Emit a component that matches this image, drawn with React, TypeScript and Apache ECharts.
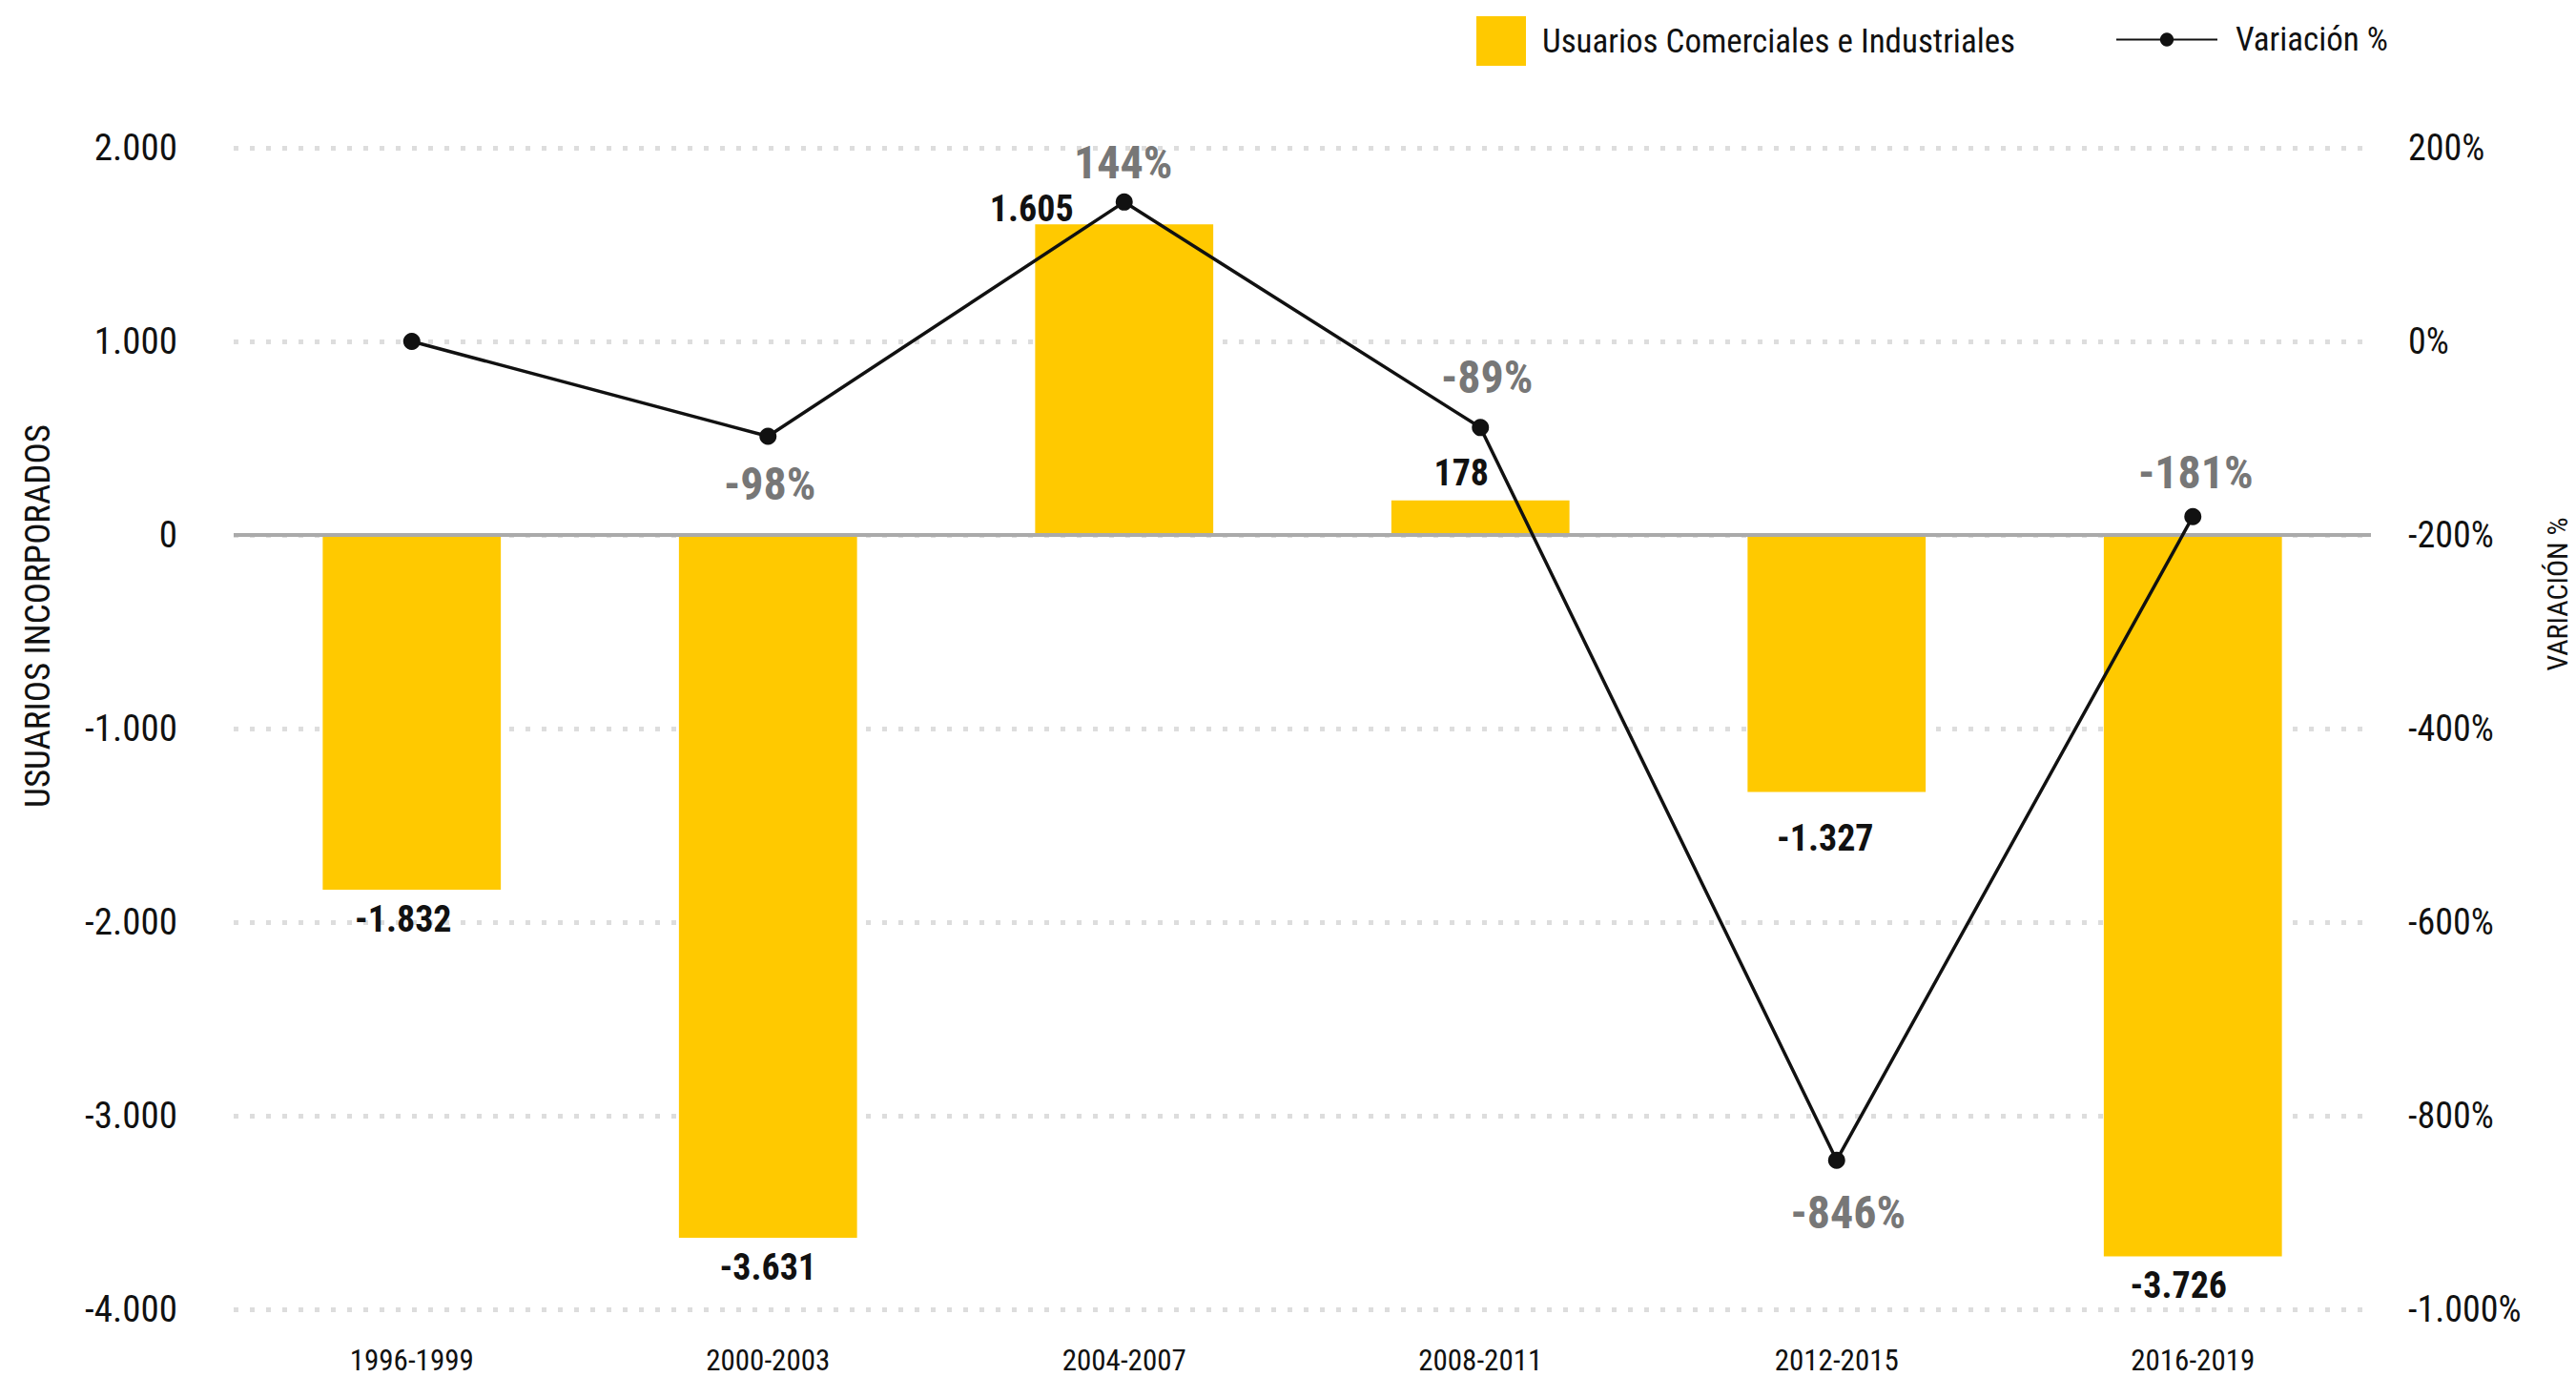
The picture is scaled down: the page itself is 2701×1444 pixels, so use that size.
import React, { useEffect, useRef } from 'react';
import * as echarts from 'echarts';

const categories = ['1996-1999', '2000-2003', '2004-2007', '2008-2011', '2012-2015', '2016-2019'];
const usuarios = [-1832, -3631, 1605, 178, -1327, -3726];
const variacion = [0, -98, 144, -89, -846, -181];
const barName = 'Usuarios Comerciales e Industriales';
const lineName = 'Variación %';
const leftAxisName = 'USUARIOS INCORPORADOS';
const rightAxisName = 'VARIACIÓN %';

const FONT = "'Roboto Condensed', 'DejaVu Sans Condensed', 'Liberation Sans Narrow', Roboto, sans-serif";

const fmt = (v: number) => {
  const s = Math.abs(v).toString().replace(/\B(?=(\d{3})+(?!\d))/g, '.');
  return (v < 0 ? '-' : '') + s;
};

// label placement tweaks (style only)
const barLabelOffsets: number[][] = [[-9, 0], [0, 0], [-97, 0], [-20, 0], [-12, 18], [-15, 0]];
const barLabelDist = [12, 12, -3, 10, 12, 12];
const lineLabelPos = ['top', 'bottom', 'top', 'top', 'bottom', 'top'];
const lineLabelDist = [20, 17, 8, 20, 22, 13];
const lineLabelOffsets: number[][] = [[0, 0], [2, 0], [-1, 0], [7, 0], [12, 0], [3, 0]];

export default function App() {
  const ref = useRef<HTMLDivElement>(null);
  useEffect(() => {
    if (!ref.current) return;
    const chart = echarts.init(ref.current, undefined, { renderer: 'svg' });
    const option: any = {
      animation: false,
      backgroundColor: '#ffffff',
      textStyle: { fontFamily: FONT },
      grid: { left: 245, right: 215, top: 155, bottom: 71 },
      legend: [
        {
          data: [{ name: barName, icon: 'rect' }],
          left: 1543,
          top: 12,
          itemWidth: 52,
          itemHeight: 52,
          textStyle: { fontFamily: FONT, fontSize: 35, color: '#111', padding: [0, 0, 0, 12] },
        },
        {
          data: [lineName],
          left: 2213,
          top: 19,
          itemWidth: 106,
          itemHeight: 18,
          textStyle: { fontFamily: FONT, fontSize: 35, color: '#111', padding: [0, 0, 0, 14] },
        },
      ],
      xAxis: {
        type: 'category',
        data: categories,
        axisLine: { show: false },
        axisTick: { show: false },
        axisLabel: { fontFamily: FONT, fontSize: 31, color: '#111', margin: 38 },
      },
      yAxis: [
        {
          type: 'value',
          min: -4000,
          max: 2000,
          interval: 1000,
          axisLine: { show: false },
          axisTick: { show: false },
          axisLabel: { fontFamily: FONT, fontSize: 39, color: '#111', margin: 59, formatter: (v: number) => fmt(v) },
          splitLine: { show: true, lineStyle: { color: '#dddddd', width: 5, type: [5, 12] } },
        },
        {
          type: 'value',
          min: -1000,
          max: 200,
          interval: 200,
          axisLine: { show: false },
          axisTick: { show: false },
          axisLabel: { fontFamily: FONT, fontSize: 38, color: '#111', margin: 39, formatter: (v: number) => fmt(v) + '%' },
          splitLine: { show: false },
        },
      ],
      graphic: [
        {
          type: 'text',
          x: 39,
          y: 646,
          rotation: Math.PI / 2,
          style: { text: leftAxisName, fontFamily: FONT, fontSize: 37, fill: '#111', align: 'center', verticalAlign: 'middle' },
        },
        {
          type: 'text',
          x: 2681,
          y: 623,
          rotation: Math.PI / 2,
          style: { text: rightAxisName, fontFamily: FONT, fontSize: 30, fill: '#111', align: 'center', verticalAlign: 'middle' },
        },
      ],
      series: [
        {
          name: barName,
          type: 'bar',
          yAxisIndex: 0,
          barWidth: '50%',
          itemStyle: { color: '#FFC900' },
          data: usuarios.map((v, i) => ({
            value: v,
            label: {
              show: true,
              position: v >= 0 ? 'top' : 'bottom',
              distance: barLabelDist[i],
              offset: barLabelOffsets[i],
              formatter: () => fmt(v),
              fontFamily: FONT,
              fontSize: 38,
              fontWeight: 'bold',
              color: '#111',
            },
          })),
          markLine: {
            silent: true,
            symbol: 'none',
            label: { show: false },
            lineStyle: { color: '#aaaaaa', width: 4, type: 'solid' },
            data: [{ yAxis: 0 }],
          },
        },
        {
          name: lineName,
          type: 'line',
          yAxisIndex: 1,
          symbol: 'circle',
          symbolSize: 18,
          itemStyle: { color: '#111' },
          lineStyle: { color: '#111', width: 3.5 },
          data: variacion.map((v, i) => ({
            value: v,
            label: {
              show: i > 0,
              position: lineLabelPos[i],
              distance: lineLabelDist[i],
              offset: lineLabelOffsets[i],
              formatter: () => v + '%',
              fontFamily: FONT,
              fontSize: 48,
              fontWeight: 'bold',
              color: '#777777',
            },
          })),
          z: 5,
        },
      ],
    };
    chart.setOption(option);
    return () => chart.dispose();
  }, []);
  return <div ref={ref} style={{ position: 'fixed', left: 0, top: 0, width: 2701, height: 1444 }} />;
}
